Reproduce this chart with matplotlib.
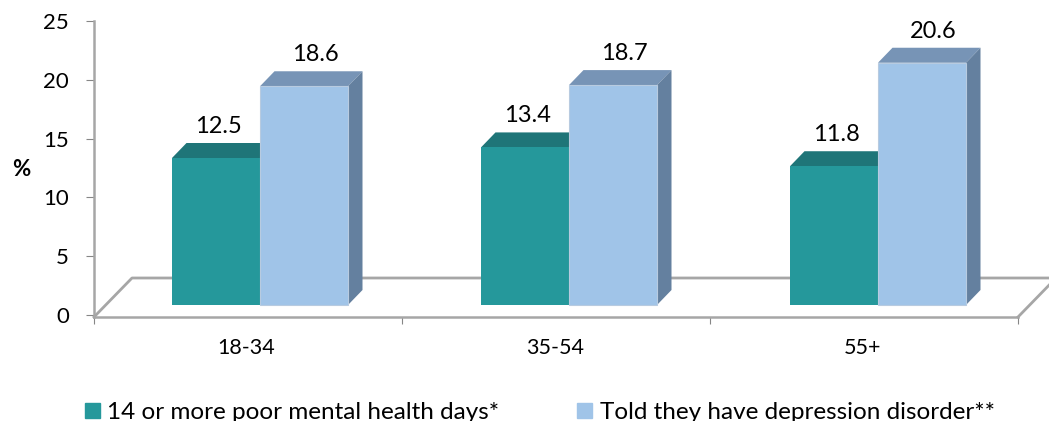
import matplotlib

matplotlib.use("Agg")
import matplotlib.pyplot as plt
from matplotlib.patches import Patch, Polygon

groups = ["18-34", "35-54", "55+"]
poor_days = [12.5, 13.4, 11.8]
depression = [18.6, 18.7, 20.6]
series_names = ["14 or more poor mental health days*", "Told they have depression disorder**"]
y_ticks = [0, 5, 10, 15, 20, 25]

W, H = 1049, 421
TEAL, TEAL_TOP = "#25989b", "#1f7578"
BLUE, BLUE_TOP, BLUE_SIDE = "#a0c4e8", "#7794b6", "#64809f"
GREY = "#a6a6a6"

plt.rcParams["font.family"] = "Lato"
plt.rcParams["font.size"] = 16

fig = plt.figure(figsize=(W / 100, H / 100), dpi=100)
ax = fig.add_axes([94 / W, 1 - 317 / H, (1018 - 94) / W, (317 - 21) / H])
ax.set_xlim(-0.5, 2.5)
ax.set_ylim(-0.17, 25)

# one x unit is 308 px, one y unit is 11.76 px
px_x = 1 / 308
px_y = 1 / 11.76
bar_w = 88 * px_x
shift = 12 * px_x
step = 309 * px_x
base = 10 * px_y
dx = 14.5 * px_x
dy = 15 * px_y


def face(points, color, z):
    ax.add_patch(Polygon(points, closed=True, facecolor=color, edgecolor="none", clip_on=False, zorder=z))


# floor
floor_x = 38 * px_x
floor_y = 39 * px_y
back = -0.17 + floor_y
ax.plot([-0.5, -0.5 + floor_x, 2.5 + floor_x + 0.03], [-0.17, back, back], color=GREY, lw=2, clip_on=False, zorder=1)
ax.plot([2.5, 2.5 + floor_x], [-0.17, back], color=GREY, lw=2, clip_on=False, zorder=1)

for i in range(len(groups)):
    mid = i * step + shift
    z = 3 + i
    top_a = poor_days[i] + base
    top_b = depression[i] + base
    left = mid - bar_w
    right = mid + bar_w

    face([(left, top_a), (left + dx, top_a + dy), (mid + dx, top_a + dy), (mid, top_a)], TEAL_TOP, z)
    face([(mid, top_b), (mid + dx, top_b + dy), (right + dx, top_b + dy), (right, top_b)], BLUE_TOP, z)
    face([(right, base), (right + dx, base + dy), (right + dx, top_b + dy), (right, top_b)], BLUE_SIDE, z)
    ax.bar(left, poor_days[i], bar_w, bottom=base, align="edge", color=TEAL, zorder=z)
    ax.bar(mid, depression[i], bar_w, bottom=base, align="edge", color=BLUE, edgecolor="#b8cbe0", lw=0.8, zorder=z)

    ax.annotate(f"{poor_days[i]}", (mid - bar_w / 2, top_a + dy), xytext=(2, 12), textcoords="offset points",
                ha="center", va="center", fontsize=17, zorder=10, annotation_clip=False)
    ax.annotate(f"{depression[i]}", (mid + bar_w / 2, top_b + dy), xytext=(8, 12), textcoords="offset points",
                ha="center", va="center", fontsize=17, zorder=10, annotation_clip=False)

for s in ["top", "right"]:
    ax.spines[s].set_visible(False)
for s in ["left", "bottom"]:
    ax.spines[s].set_color(GREY)
    ax.spines[s].set_linewidth(1.8)

ax.set_yticks(y_ticks)
ax.tick_params(axis="y", length=6, width=0.8, color="#868686", pad=12)
ax.set_xticks([-0.5, 0.5, 1.5, 2.5])
ax.set_xticklabels([])
ax.tick_params(axis="x", length=5, width=0.8, color="#868686")
for i, g in enumerate(groups):
    ax.annotate(g, (i, -0.17), xytext=(-1, -22), textcoords="offset points", ha="center", va="center",
                fontsize=15.5, annotation_clip=False)

fig.text(21 / W, 1 - 170 / H, "%", fontweight="bold", fontsize=16, ha="center", va="center")

handles = [Patch(color=TEAL), Patch(color=BLUE)]
fig.legend(handles, series_names, loc="lower left", bbox_to_anchor=(85 / W, -2 / H), ncol=2, frameon=False,
           handlelength=0.62, handleheight=0.62, handletextpad=0.3, columnspacing=3.2, fontsize=17.5,
           borderaxespad=0, borderpad=0)

fig.savefig("out.png", dpi=100)
